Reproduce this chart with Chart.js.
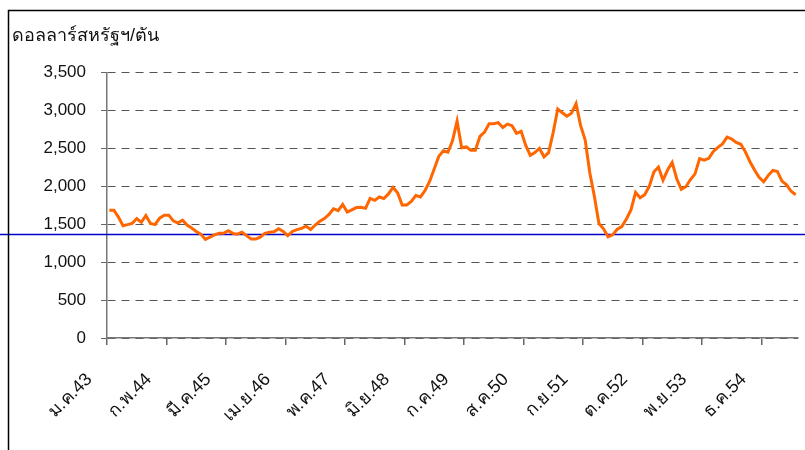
<!DOCTYPE html>
<html>
<head>
<meta charset="utf-8">
<script src="https://cdn.jsdelivr.net/npm/chart.js@4.4.1/dist/chart.umd.min.js"></script>
<style>
  html, body { margin: 0; padding: 0; background: #fff; }
</style>
</head>
<body>
<canvas id="priceChart" width="805" height="450"></canvas>
<script>
// ราคาส่งออก (ดอลลาร์สหรัฐฯ/ตัน) รายเดือน ม.ค.43 - ก.ค.55
const monthNames = ['ม.ค.', 'ก.พ.', 'มี.ค.', 'เม.ย.', 'พ.ค.', 'มิ.ย.', 'ก.ค.', 'ส.ค.', 'ก.ย.', 'ต.ค.', 'พ.ย.', 'ธ.ค.'];
const firstYear = 43;
const prices = [
  1685, 1685, 1595, 1480, 1495, 1510, 1575, 1525, 1615, 1510, 1495, 1580,
  1620, 1620, 1545, 1515, 1555, 1490, 1450, 1405, 1370, 1300, 1330, 1360,
  1380, 1380, 1415, 1380, 1370, 1395, 1350, 1305, 1305, 1330, 1380, 1395,
  1400, 1440, 1405, 1350, 1405, 1430, 1445, 1475, 1430, 1490, 1540, 1575,
  1630, 1705, 1680, 1760, 1660, 1690, 1720, 1725, 1710, 1840, 1815, 1860,
  1840, 1900, 1985, 1915, 1755, 1755, 1800, 1880, 1860, 1945, 2065, 2230,
  2395, 2470, 2450, 2600, 2860, 2510, 2520, 2475, 2475, 2660, 2715, 2825,
  2825, 2840, 2775, 2820, 2800, 2700, 2725, 2540, 2410, 2445, 2500, 2390,
  2445, 2710, 3020, 2970, 2925, 2965, 3090, 2800, 2610, 2180, 1870, 1510,
  1440, 1335, 1360, 1435, 1470, 1570, 1690, 1920, 1850, 1890, 2000, 2190,
  2255, 2080, 2215, 2315, 2100, 1960, 1995, 2090, 2165, 2365, 2345, 2370,
  2460, 2515, 2560, 2650, 2625, 2580, 2555, 2455, 2325, 2215, 2120, 2060,
  2145, 2210, 2195, 2070, 2020, 1935, 1890
];
const categories = prices.map((_, i) => monthNames[i % 12] + (firstYear + Math.floor(i / 12)));
const labelStep = 13;
const yMin = 0;
const yMax = 3500;
const yStep = 500;
const markerLevel = 1375;

const fontFamily = "'Liberation Sans', 'Noto Sans', sans-serif";

// กรอบด้านซ้าย/บน และเส้นแนวนอนสีน้ำเงิน
const framePlugin = {
  id: 'frame',
  beforeDatasetsDraw(chart) {
    const ctx = chart.ctx;
    const y = Math.round(chart.scales.y.getPixelForValue(markerLevel)) + 0.5;
    ctx.save();
    ctx.strokeStyle = '#0000c8';
    ctx.lineWidth = 1.5;
    ctx.beginPath();
    ctx.moveTo(0, y);
    ctx.lineTo(chart.width, y);
    ctx.stroke();
    ctx.restore();
  },
  afterDraw(chart) {
    const ctx = chart.ctx;
    ctx.save();
    ctx.strokeStyle = '#000';
    ctx.lineWidth = 1.5;
    ctx.beginPath();
    ctx.moveTo(8.5, chart.height);
    ctx.lineTo(8.5, 10.5);
    ctx.lineTo(chart.width, 10.5);
    ctx.stroke();
    ctx.restore();
  }
};

new Chart(document.getElementById('priceChart').getContext('2d'), {
  type: 'line',
  data: {
    labels: categories,
    datasets: [{
      data: prices,
      borderColor: '#ff6600',
      borderWidth: 3,
      pointRadius: 0,
      tension: 0,
      fill: false
    }]
  },
  options: {
    responsive: false,
    animation: false,
    layout: { padding: { left: 12, right: 7, top: 0, bottom: 0 } },
    plugins: {
      legend: { display: false },
      tooltip: { enabled: false },
      title: {
        display: true,
        text: 'ดอลลาร์สหรัฐฯ/ตัน',
        align: 'start',
        color: '#111',
        font: { family: fontFamily, size: 18, weight: 'normal' },
        padding: { top: 25, bottom: 26 }
      }
    },
    scales: {
      x: {
        type: 'category',
        offset: true,
        grid: {
          offset: true,
          drawOnChartArea: false,
          drawTicks: true,
          tickLength: 7,
          lineWidth: 1.5,
          color: ctx => (ctx.index % labelStep === 0 ? '#666' : 'rgba(0,0,0,0)')
        },
        border: { display: true, color: '#777', width: 1.5 },
        ticks: {
          autoSkip: false,
          maxRotation: 45,
          minRotation: 45,
          labelOffset: -20,
          padding: 24,
          color: '#111',
          font: { family: fontFamily, size: 18 },
          callback: (v, i) => (i % labelStep === 0 ? categories[i] : '')
        },
        afterFit: scale => {
          scale.height = 112;
          scale.paddingLeft = 0;
          scale.paddingRight = 0;
        }
      },
      y: {
        min: yMin,
        max: yMax,
        grid: {
          color: '#555',
          lineWidth: 1,
          tickBorderDash: [],
          tickColor: '#666',
          tickLength: 6
        },
        border: { display: true, color: '#777', width: 1.5, dash: [8, 6] },
        ticks: {
          stepSize: yStep,
          padding: 15,
          color: '#111',
          font: { family: fontFamily, size: 17 },
          callback: v => v.toLocaleString('en-US')
        },
        afterFit: scale => { scale.width = 95; }
      }
    }
  },
  plugins: [framePlugin]
});
</script>
</body>
</html>
